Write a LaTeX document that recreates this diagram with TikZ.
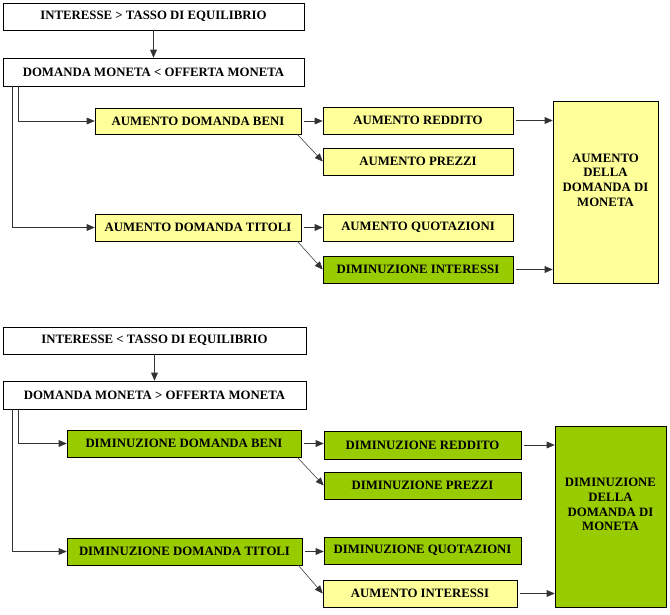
\documentclass[tikz,border=0pt]{standalone}
\usepackage{fontspec}
\setmainfont{Liberation Serif}
\usetikzlibrary{arrows.meta,calc}
\definecolor{paleyel}{HTML}{FFFF99}
\definecolor{leafgrn}{HTML}{99CC00}
\tikzset{
  box/.style 2 args={draw, inner sep=0pt, align=center,
    minimum width={#1*0.75pt}, minimum height={#2*0.75pt},
    font=\fontsize{9.6}{11}\selectfont\bfseries},
  wbox/.style 2 args={box={#1}{#2}, fill=white},
  ybox/.style 2 args={box={#1}{#2}, fill=paleyel},
  gbox/.style 2 args={box={#1}{#2}, fill=leafgrn},
  bigtext/.style={align=center, font=\fontsize{9.6}{11}\selectfont\bfseries},
  arr/.style={draw=black!80, -{Triangle[length=6pt,width=5pt]}},
}
\begin{document}
\begin{tikzpicture}[x=0.75pt,y=-0.75pt]
  \useasboundingbox (0,0) rectangle (670,614);
  %%%%% TASSO ALTO %%%%%
  \node[wbox={301}{27}] (intA) at (153.5,16.5) {INTERESSE > TASSO DI EQUILIBRIO};
  \node[wbox={301}{28}] (monA) at (153.5,72) {DOMANDA MONETA < OFFERTA MONETA};
  \node[ybox={206}{26}] (beniA) at (198,121) {AUMENTO DOMANDA BENI};
  \node[ybox={206}{27}] (titA) at (198,227.5) {AUMENTO DOMANDA TITOLI};
  \node[ybox={190}{27}] (redA) at (418,120.5) {AUMENTO REDDITO};
  \node[ybox={190}{27}] (prezA) at (418,161.5) {AUMENTO PREZZI};
  \node[ybox={190}{27}] (quotA) at (418,227.5) {AUMENTO QUOTAZIONI};
  \node[gbox={190}{27}] (ratA) at (418,269.5) {DIMINUZIONE INTERESSI};
  \node[ybox={105}{182}] (bigA) at (605.5,192) {};
  \node[bigtext] (bigAtxt) at ($(bigA.center)+(0,-12)$) {AUMENTO\\DELLA\\DOMANDA DI\\MONETA};

  \draw[arr] (intA) -- (monA);
  \draw[arr] ($(monA.south west)+(16,0)$) |- (beniA.west);
  \draw[arr] ($(monA.south west)+(10,0)$) |- (titA.west);
  \draw[arr, shorten <=2pt] (beniA.east) -- (beniA.east -| redA.west);
  \draw[arr] ($(beniA.south east)+(-4,0)$) -- (prezA.west);
  \draw[arr, shorten <=2pt] (titA.east) -- (titA.east -| quotA.west);
  \draw[arr] ($(titA.south east)+(-4,0)$) -- (ratA.west);
  \draw[arr, shorten <=2pt] (redA.east) -- (redA.east -| bigA.west);
  \draw[arr, shorten <=2pt] (ratA.east) -- (ratA.east -| bigA.west);

  %%%%% TASSO BASSO %%%%%
  \node[wbox={303}{27}] (intB) at (154.5,340.5) {INTERESSE < TASSO DI EQUILIBRIO};
  \node[wbox={303}{28}] (monB) at (154.5,395) {DOMANDA MONETA > OFFERTA MONETA};
  \node[gbox={234}{27}] (beniB) at (184,443.5) {DIMINUZIONE DOMANDA BENI};
  \node[gbox={235}{27}] (titB) at (184.5,551.5) {DIMINUZIONE DOMANDA TITOLI};
  \node[gbox={197}{28}] (redB) at (422.5,445) {DIMINUZIONE REDDITO};
  \node[gbox={197}{27}] (prezB) at (422.5,485.5) {DIMINUZIONE PREZZI};
  \node[gbox={197}{27}] (quotB) at (422.5,550.5) {DIMINUZIONE QUOTAZIONI};
  \node[ybox={194}{27}] (ratB) at (420,593.5) {AUMENTO INTERESSI};
  \node[gbox={111}{181}] (bigB) at (610.5,516.5) {};
  \node[bigtext] (bigBtxt) at ($(bigB.center)+(0,-12)$) {DIMINUZIONE\\DELLA\\DOMANDA DI\\MONETA};

  \draw[arr] (intB) -- (monB);
  \draw[arr] ($(monB.south west)+(16,0)$) |- (beniB.west);
  \draw[arr] ($(monB.south west)+(10,0)$) |- (titB.west);
  \draw[arr, shorten <=2pt] (beniB.east) -- (beniB.east -| redB.west);
  \draw[arr] ($(beniB.south east)+(-4,0)$) -- (prezB.west);
  \draw[arr, shorten <=2pt] (titB.east) -- (titB.east -| quotB.west);
  \draw[arr] ($(titB.south east)+(-4,0)$) -- (ratB.west);
  \draw[arr, shorten <=2pt] (redB.east) -- (redB.east -| bigB.west);
  \draw[arr, shorten <=2pt] (ratB.east) -- (ratB.east -| bigB.west);
\end{tikzpicture}
\end{document}
